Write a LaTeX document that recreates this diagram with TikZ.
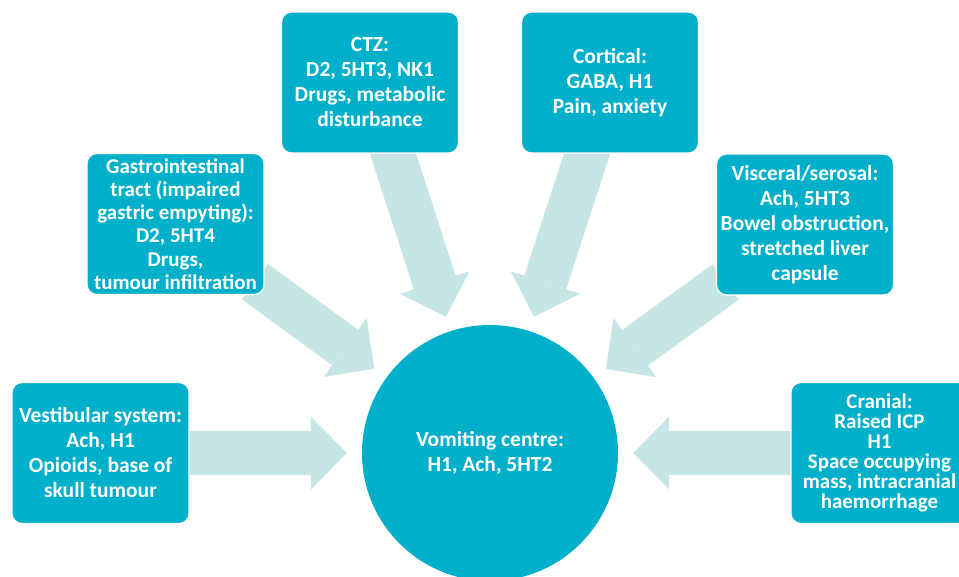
\documentclass[tikz,border=0pt]{standalone}
\usepackage{fontspec}
\setmainfont{Carlito}
\usetikzlibrary{arrows.meta}
\usetikzlibrary{backgrounds}

\definecolor{boxteal}{RGB}{0,176,202}
\definecolor{arrowmint}{RGB}{197,230,228}

\begin{document}
\begin{tikzpicture}[x=1pt,y=-1pt]
\tikzset{causebox/.style={rectangle,rounded corners=10pt,fill=boxteal,draw=white,line width=1.2pt,minimum width=177pt,minimum height=141pt,inner sep=1pt,align=center,text=white,font=\fontsize{21.5}{25}\selectfont\bfseries}}
\tikzset{centrenode/.style={circle,fill=boxteal,minimum size=256pt,inner sep=0pt,align=center,text=white,font=\fontsize{21.5}{25}\selectfont\bfseries}}
\tikzset{fatarrow/.style={draw=arrowmint,line width=44pt,-{Triangle[length=36pt,width=73pt,line width=0pt]},shorten >=15pt,shorten <=-12pt}}
\useasboundingbox (0,0) rectangle (959,577);
\node[centrenode](vc) at (490,453){Vomiting centre:\\H1, Ach, 5HT2};
\node[causebox](vest) at (100.5,453){Vestibular system:\\Ach, H1\\Opioids, base of\\skull tumour};
\node[causebox,font=\fontsize{21}{23.3}\selectfont\bfseries](gi) at (175.5,224){Gastrointestinal\\tract (impaired\\gastric empyting):\\D2, 5HT4\\Drugs,\\tumour infiltration};
\node[causebox](ctz) at (370,82.5){CTZ:\\D2, 5HT3, NK1\\Drugs, metabolic\\disturbance};
\node[causebox](cort) at (610,82.5){Cortical:\\GABA, H1\\Pain, anxiety};
\node[causebox](visc) at (805,224.5){Visceral/serosal:\\Ach, 5HT3\\Bowel obstruction,\\stretched liver\\capsule};
\node[causebox,font=\fontsize{21}{20}\selectfont\bfseries](cran) at (879.5,453){Cranial:\\Raised ICP\\H1\\Space occupying\\mass, intracranial\\haemorrhage};
\begin{pgfonlayer}{background}
\draw[fatarrow](vest) -- (vc);
\draw[fatarrow](gi) -- (vc);
\draw[fatarrow](ctz) -- (vc);
\draw[fatarrow](cort) -- (vc);
\draw[fatarrow](visc) -- (vc);
\draw[fatarrow](cran) -- (vc);
\end{pgfonlayer}
\end{tikzpicture}
\end{document}
